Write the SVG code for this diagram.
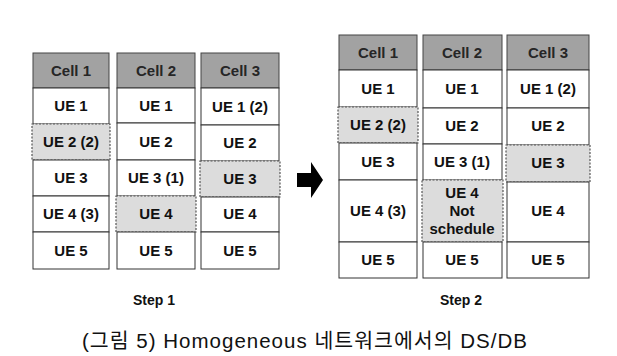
<svg xmlns="http://www.w3.org/2000/svg" width="617" height="356" viewBox="0 0 617 356">
<style>
.cell{fill:#ffffff;stroke:#333333;stroke-width:1}
.hdr{fill:#a2a2a2;stroke:#444444;stroke-width:1}
.hl{fill:#dcdcdc;stroke:#555555;stroke-width:1.2;stroke-dasharray:2 1.5}
.t{font-family:"Liberation Sans",Arial,sans-serif;font-weight:bold;font-size:15px;fill:#111111;text-anchor:middle}
.th{font-family:"Liberation Sans",Arial,sans-serif;font-weight:bold;font-size:15px;fill:#262626;text-anchor:middle}
.step{font-family:"Liberation Sans",Arial,sans-serif;font-weight:bold;font-size:14px;fill:#111111;text-anchor:middle}
.cap{font-family:"Liberation Sans",Arial,"Noto Sans CJK KR",sans-serif;font-size:20.5px;fill:#111111}
</style>
<rect width="617" height="356" fill="#ffffff"/>

<!-- Step 1 -->
<g id="s1-cell1">
<rect class="hdr" x="33" y="53" width="76" height="35"/>
<text class="th" x="71" y="76">Cell 1</text>
<rect class="cell" x="33" y="88" width="76" height="36"/><text class="t" x="71" y="111">UE 1</text>
<rect class="hl" x="32" y="124" width="78" height="36"/><text class="t" x="71" y="147">UE 2 (2)</text>
<rect class="cell" x="33" y="160" width="76" height="36"/><text class="t" x="71" y="183">UE 3</text>
<rect class="cell" x="33" y="196" width="76" height="36"/><text class="t" x="71" y="219">UE 4 (3)</text>
<rect class="cell" x="33" y="232" width="76" height="37"/><text class="t" x="71" y="256">UE 5</text>
</g>
<g id="s1-cell2">
<rect class="hdr" x="117" y="53" width="78" height="35"/>
<text class="th" x="156" y="76">Cell 2</text>
<rect class="cell" x="117" y="88" width="78" height="35"/><text class="t" x="156" y="111">UE 1</text>
<rect class="cell" x="117" y="123" width="78" height="37"/><text class="t" x="156" y="147">UE 2</text>
<rect class="cell" x="117" y="160" width="78" height="36"/><text class="t" x="156" y="183">UE 3 (1)</text>
<rect class="hl" x="116" y="196" width="80" height="36"/><text class="t" x="156" y="219">UE 4</text>
<rect class="cell" x="117" y="232" width="78" height="37"/><text class="t" x="156" y="256">UE 5</text>
</g>
<g id="s1-cell3">
<rect class="hdr" x="201" y="53" width="78" height="35"/>
<text class="th" x="240" y="76">Cell 3</text>
<rect class="cell" x="201" y="88" width="78" height="37"/><text class="t" x="240" y="112">UE 1 (2)</text>
<rect class="cell" x="201" y="125" width="78" height="36"/><text class="t" x="240" y="148">UE 2</text>
<rect class="hl" x="200" y="161" width="80" height="36"/><text class="t" x="240" y="184">UE 3</text>
<rect class="cell" x="201" y="197" width="78" height="35"/><text class="t" x="240" y="219">UE 4</text>
<rect class="cell" x="201" y="232" width="78" height="37"/><text class="t" x="240" y="256">UE 5</text>
</g>

<!-- Step 2 -->
<g id="s2-cell1">
<rect class="hdr" x="339" y="35" width="78" height="35"/>
<text class="th" x="378" y="58">Cell 1</text>
<rect class="cell" x="339" y="70" width="78" height="37"/><text class="t" x="378" y="94">UE 1</text>
<rect class="hl" x="338" y="107" width="80" height="36"/><text class="t" x="378" y="130">UE 2 (2)</text>
<rect class="cell" x="339" y="143" width="78" height="37"/><text class="t" x="378" y="167">UE 3</text>
<rect class="cell" x="339" y="180" width="78" height="62"/><text class="t" x="378" y="216">UE 4 (3)</text>
<rect class="cell" x="339" y="242" width="78" height="36"/><text class="t" x="378" y="265">UE 5</text>
</g>
<g id="s2-cell2">
<rect class="hdr" x="423" y="35" width="79" height="35"/>
<text class="th" x="462" y="58">Cell 2</text>
<rect class="cell" x="423" y="70" width="79" height="38"/><text class="t" x="462" y="94">UE 1</text>
<rect class="cell" x="423" y="108" width="79" height="36"/><text class="t" x="462" y="131">UE 2</text>
<rect class="cell" x="423" y="144" width="79" height="36"/><text class="t" x="462" y="167">UE 3 (1)</text>
<rect class="hl" x="422" y="180" width="81" height="62"/>
<text class="t" x="462" y="198">UE 4</text>
<text class="t" x="462" y="216">Not</text>
<text class="t" x="462" y="234">schedule</text>
<rect class="cell" x="423" y="242" width="79" height="36"/><text class="t" x="462" y="265">UE 5</text>
</g>
<g id="s2-cell3">
<rect class="hdr" x="507" y="35" width="82" height="35"/>
<text class="th" x="548" y="58">Cell 3</text>
<rect class="cell" x="507" y="70" width="82" height="38"/><text class="t" x="548" y="94">UE 1 (2)</text>
<rect class="cell" x="507" y="108" width="82" height="37"/><text class="t" x="548" y="131">UE 2</text>
<rect class="hl" x="506" y="145" width="84" height="37"/><text class="t" x="548" y="168">UE 3</text>
<rect class="cell" x="507" y="182" width="82" height="60"/><text class="t" x="548" y="216">UE 4</text>
<rect class="cell" x="507" y="242" width="82" height="36"/><text class="t" x="548" y="265">UE 5</text>
</g>

<g id="connectors">
<path d="M297 173 H311 V162 L323 180 L311 198 V187 H297 Z" fill="#000000"/>
</g>

<g id="labels">
<text class="step" x="154" y="305">Step 1</text>
<text class="step" x="461" y="305">Step 2</text>
<text class="cap" x="82" y="348" textLength="445" lengthAdjust="spacing">(그림 5) Homogeneous 네트워크에서의 DS/DB</text>
</g>
</svg>
